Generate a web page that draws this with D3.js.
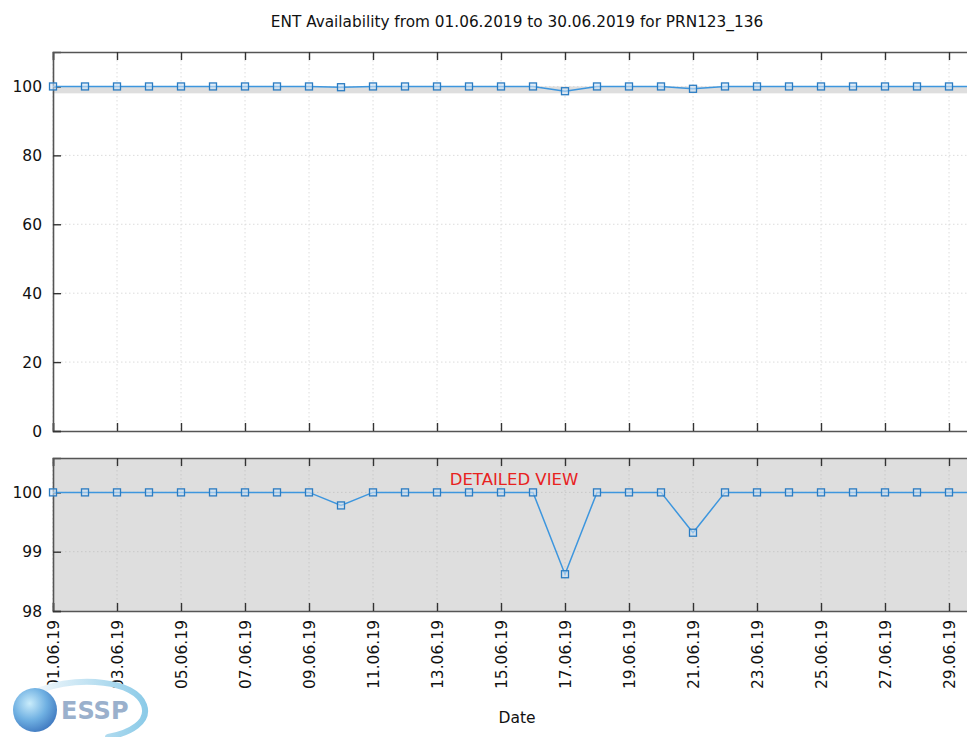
<!DOCTYPE html>
<html>
<head>
<meta charset="utf-8">
<script src="https://cdn.jsdelivr.net/npm/d3@7"></script>
<style>
  body { margin: 0; background: #fff; }
  svg { display: block; font-family: Tahoma, "DejaVu Sans", Verdana, sans-serif; }
</style>
</head>
<body>
<svg width="967" height="737"></svg>
<script>
const title = 'ENT Availability from 01.06.2019 to 30.06.2019 for PRN123_136';
const days = d3.range(1, 31);
const availability = [
  100, 100, 100, 100, 100, 100, 100, 100, 100, 99.78,
  100, 100, 100, 100, 100, 100, 98.62, 100, 100, 100,
  99.32, 100, 100, 100, 100, 100, 100, 100, 100, 100
];
const topTicks = [0, 20, 40, 60, 80, 100];
const detailTicks = [98, 99, 100];

const data = days.map((d, i) => ({date: new Date(Date.UTC(2019, 5, d)), value: availability[i]}));

const svg = d3.select('svg');
const left = 53, right = 981;
const blue = '#3d96de', markerStroke = '#2b7cc2', axisColor = '#555';

const x = d3.scaleUtc()
  .domain([data[0].date, data[data.length - 1].date])
  .range([left, right]);
const xTicks = data.filter((d, i) => i % 2 === 0).map(d => d.date);
const fmt = d3.utcFormat('%d.%m.%y');

// panels
const yTop = d3.scaleLinear().domain([0, 110]).range([431, 52]);
const yDet = d3.scaleLinear().domain([98, 100.58]).range([611, 458]);

svg.append('text')
  .attr('x', (left + right) / 2).attr('y', 27)
  .attr('text-anchor', 'middle')
  .attr('font-size', 15.3)
  .attr('fill', '#111')
  .text(title);

function panel(y, ticks, band) {
  const g = svg.append('g');
  const [y0, y1] = y.range();
  if (band) {
    g.append('rect')
      .attr('x', left).attr('width', right - left)
      .attr('y', y1).attr('height', y0 - y1)
      .attr('fill', '#dedede');
  } else {
    // detail range indicator
    g.append('rect')
      .attr('x', left).attr('width', right - left)
      .attr('y', y(100)).attr('height', y(98) - y(100))
      .attr('fill', '#dedede');
  }
  // grid
  g.append('g').selectAll('line').data(xTicks).join('line')
    .attr('x1', d => x(d)).attr('x2', d => x(d))
    .attr('y1', y1).attr('y2', y0)
    .attr('stroke', band ? '#c8c8c8' : '#dcdcdc')
    .attr('stroke-dasharray', '1.5,2.5');
  g.append('g').selectAll('line').data(ticks.filter(t => t !== y.domain()[0])).join('line')
    .attr('x1', left).attr('x2', right)
    .attr('y1', d => y(d)).attr('y2', d => y(d))
    .attr('stroke', band ? '#c8c8c8' : '#dcdcdc')
    .attr('stroke-dasharray', '1.5,2.5');

  // axes (ticks inward)
  const ax = g.append('g').attr('transform', `translate(0,${y0})`)
    .call(d3.axisTop(x).tickValues(xTicks).tickSize(8).tickFormat(''));
  const ax2 = g.append('g').attr('transform', `translate(0,${y1})`)
    .call(d3.axisBottom(x).tickValues(xTicks).tickSize(8).tickFormat(''));
  const ay = g.append('g').attr('transform', `translate(${left},0)`)
    .call(d3.axisRight(y).tickValues(ticks).tickSize(8).tickFormat(''));
  [ax, ax2, ay].forEach(a => {
    a.select('.domain').attr('stroke', axisColor).attr('stroke-width', 1.6);
    a.selectAll('.tick line').attr('stroke', '#333').attr('stroke-width', 1.4);
  });
  g.append('g').selectAll('text').data(ticks).join('text')
    .attr('x', 42).attr('y', d => y(d) + 5.5)
    .attr('text-anchor', 'end')
    .attr('font-size', 15.5)
    .attr('fill', '#111')
    .text(d => d);

  const line = d3.line().x(d => x(d.date)).y(d => y(d.value));
  g.append('path').datum(data)
    .attr('d', line)
    .attr('fill', 'none')
    .attr('stroke', blue)
    .attr('stroke-width', 1.5);
  g.append('g').selectAll('rect').data(data).join('rect')
    .attr('x', d => x(d.date) - 3.5).attr('y', d => y(d.value) - 3.5)
    .attr('width', 7).attr('height', 7)
    .attr('fill', '#cfe3f5')
    .attr('fill-opacity', 0.6)
    .attr('stroke', markerStroke)
    .attr('stroke-width', 1.3);
  return g;
}

panel(yTop, topTicks, false);
panel(yDet, detailTicks, true);

svg.append('text')
  .attr('x', 514).attr('y', 485)
  .attr('text-anchor', 'middle')
  .attr('font-size', 16.5)
  .attr('fill', '#e8221e')
  .text('DETAILED VIEW');

// x labels
svg.append('g').selectAll('text').data(xTicks).join('text')
  .attr('transform', d => `translate(${x(d) + 5.5},620) rotate(-90)`)
  .attr('text-anchor', 'end')
  .attr('font-size', 15.5)
  .attr('fill', '#111')
  .text(d => fmt(d));

svg.append('text')
  .attr('x', 517).attr('y', 723)
  .attr('text-anchor', 'middle')
  .attr('font-size', 15.5)
  .attr('fill', '#111')
  .text('Date');

// ESSP logo
const defs = svg.append('defs');
const rg = defs.append('radialGradient').attr('id', 'sphere').attr('cx', '38%').attr('cy', '35%').attr('r', '70%');
rg.append('stop').attr('offset', '0%').attr('stop-color', '#c9ecfb');
rg.append('stop').attr('offset', '55%').attr('stop-color', '#6fb0e2');
rg.append('stop').attr('offset', '100%').attr('stop-color', '#3f78bf');
const lg = defs.append('linearGradient').attr('id', 'swoosh').attr('x1', '0%').attr('x2', '100%');
lg.append('stop').attr('offset', '0%').attr('stop-color', '#eef6fb');
lg.append('stop').attr('offset', '100%').attr('stop-color', '#8ccbe8');

const logo = svg.append('g');
logo.append('path')
  .attr('d', 'M40,690 C80,676 135,680 144,705 C150,722 130,733 108,737')
  .attr('fill', 'none')
  .attr('stroke', 'url(#swoosh)')
  .attr('stroke-width', 6)
  .attr('stroke-linecap', 'round');
logo.append('circle')
  .attr('cx', 35).attr('cy', 710).attr('r', 22)
  .attr('fill', 'url(#sphere)');
logo.append('text')
  .attr('x', 61).attr('y', 719)
  .attr('font-size', 24)
  .attr('font-weight', 'bold')
  .attr('font-family', '"DejaVu Sans", sans-serif')
  .attr('fill', '#9ab0cc')
  .text('ESSP');
</script>
</body>
</html>
